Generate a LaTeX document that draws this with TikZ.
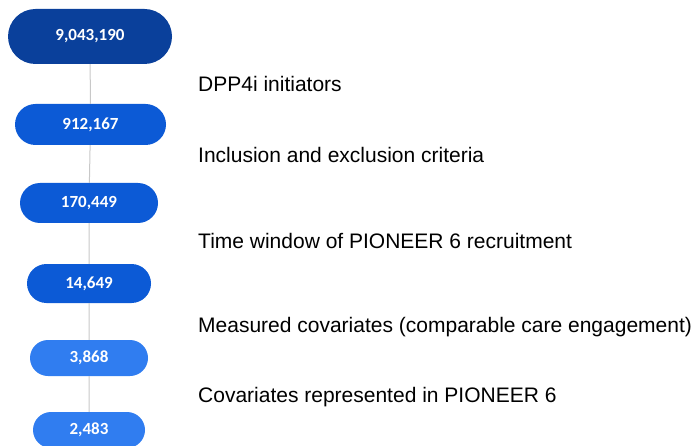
\documentclass[tikz,border=0pt]{standalone}
\usepackage{fontspec}
\setmainfont{Liberation Sans}
\newfontfamily\numfont{Carlito}
\usetikzlibrary{shapes.misc}
\definecolor{darkblue}{RGB}{10,64,155}
\definecolor{midblue}{RGB}{12,90,214}
\definecolor{lightblue}{RGB}{48,125,240}
\definecolor{linegray}{RGB}{200,200,200}
\tikzset{
  countbox/.style={rounded rectangle,inner sep=0pt,text=white,
    font=\numfont\bfseries\fontsize{17}{19}\selectfont},
  steplabel/.style={anchor=base west,inner sep=0pt,
    font=\fontsize{21}{24}\selectfont}
}
\begin{document}
\begin{tikzpicture}[x=1pt,y=-1pt]
\useasboundingbox (0,0) rectangle (695,446);
\node (n1) [countbox,fill=darkblue,minimum width=164pt,minimum height=55pt] at (90,36.5) {9,043,190};
\node (n2) [countbox,fill=midblue,minimum width=151pt,minimum height=41pt] at (90.5,124.5) {912,167};
\node (n3) [countbox,fill=midblue,minimum width=138pt,minimum height=40pt] at (89,203) {170,449};
\node (n4) [countbox,fill=midblue,minimum width=124pt,minimum height=39pt] at (89,283.5) {14,649};
\node (n5) [countbox,fill=lightblue,minimum width=118pt,minimum height=36pt] at (89,358) {3,868};
\node (n6) [countbox,fill=lightblue,minimum width=112pt,minimum height=36pt] at (89,430) {2,483};
\draw [linegray,line width=1pt] (n1) -- (n2);
\draw [linegray,line width=1pt] (n2) -- (n3);
\draw [linegray,line width=1pt] (n3) -- (n4);
\draw [linegray,line width=1pt] (n4) -- (n5);
\draw [linegray,line width=1pt] (n5) -- (n6);
\node (l1) [steplabel] at (198,92) {DPP4i initiators};
\node (l2) [steplabel] at (198,163) {Inclusion and exclusion criteria};
\node (l3) [steplabel] at (198,248) {Time window of PIONEER 6 recruitment};
\node (l4) [steplabel] at (198,332) {Measured covariates (comparable care engagement)};
\node (l5) [steplabel] at (198,402) {Covariates represented in PIONEER 6};
\end{tikzpicture}
\end{document}
